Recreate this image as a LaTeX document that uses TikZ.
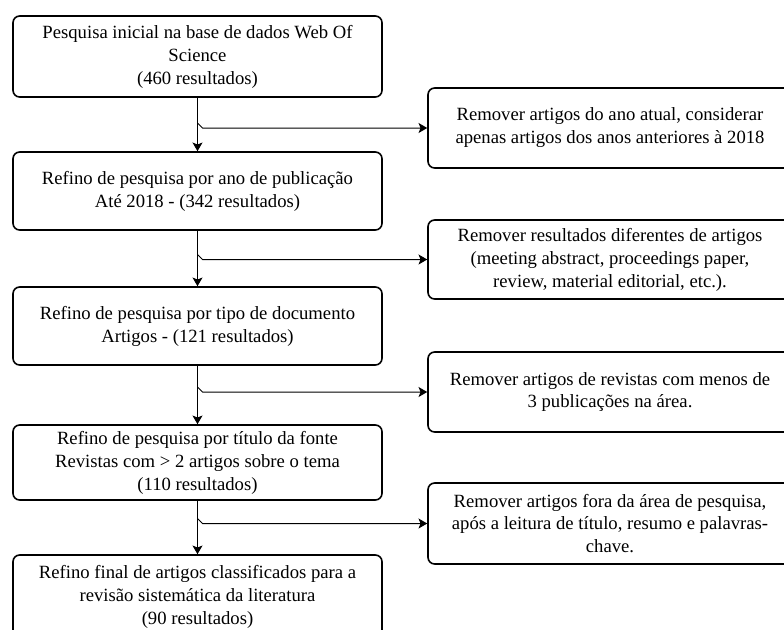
\documentclass[tikz,border=0pt]{standalone}
\usepackage{fontspec}
\setmainfont{Liberation Serif}
\usetikzlibrary{arrows.meta,calc}
\begin{document}
\begin{tikzpicture}[x=0.75pt,y=-0.75pt,
  stepbox/.style={draw,line width=1.2pt,rounded corners=5pt,align=center,inner sep=0pt,
    font=\fontsize{14}{17.2}\selectfont},
  leftbox/.style={stepbox,minimum width=276.75pt},
  rightbox/.style={stepbox,minimum width=273pt},
  flow/.style={line width=0.75pt,-{Stealth[length=6.5pt,width=7.5pt,inset=1.5pt]}}]
\useasboundingbox (0,0) rectangle (784,629);
\clip (0,0) rectangle (784,629);

% main sequence of search steps
\node[leftbox,minimum height=60.75pt] (b1) at (197.5,56.5)
  {Pesquisa inicial na base de dados Web Of\\Science\\(460 resultados)};
\node[leftbox,minimum height=58.5pt] (b2) at (197.5,191)
  {Refino de pesquisa por ano de publicação\\Até 2018 - (342 resultados)};
\node[leftbox,minimum height=58.5pt] (b3) at (197.5,326)
  {Refino de pesquisa por tipo de documento\\Artigos - (121 resultados)};
\node[leftbox,minimum height=56.25pt] (b4) at (197.5,462.5)
  {Refino de pesquisa por título da fonte\\Revistas com > 2 artigos sobre o tema\\(110 resultados)};
\node[leftbox,minimum height=63pt] (b5) at (197.5,597)
  {Refino final de artigos classificados para a\\revisão sistemática da literatura\\(90 resultados)};

% exclusion criteria
\node[rightbox,minimum height=60pt] (r1) at (610,128)
  {Remover artigos do ano atual, considerar\\apenas artigos dos anos anteriores à 2018};
\node[rightbox,minimum height=59.25pt] (r2) at (610,259.5)
  {Remover resultados diferentes de artigos\\(meeting abstract, proceedings paper,\\review, material editorial, etc.).};
\node[rightbox,minimum height=60pt] (r3) at (610,392)
  {Remover artigos de revistas com menos de\\3 publicações na área.};
\node[rightbox,minimum height=60.75pt] (r4) at (610,523.5)
  {Remover artigos fora da área de pesquisa,\\após a leitura de título, resumo e palavras-\\chave.};

% vertical flow
\draw[flow] (b1) -- (b2);
\draw[flow] (b2) -- (b3);
\draw[flow] (b3) -- (b4);
\draw[flow] (b4) -- (b5);

% branches to the exclusion boxes
\foreach \b/\r in {b1/r1,b2/r2,b3/r3,b4/r4}{
  \coordinate (j\r) at (\b.south |- \r.west);
  \draw[flow] ($(j\r)+(0,-5)$) -- ($(j\r)+(5,0)$) -- (\r.west);
}
\end{tikzpicture}
\end{document}
